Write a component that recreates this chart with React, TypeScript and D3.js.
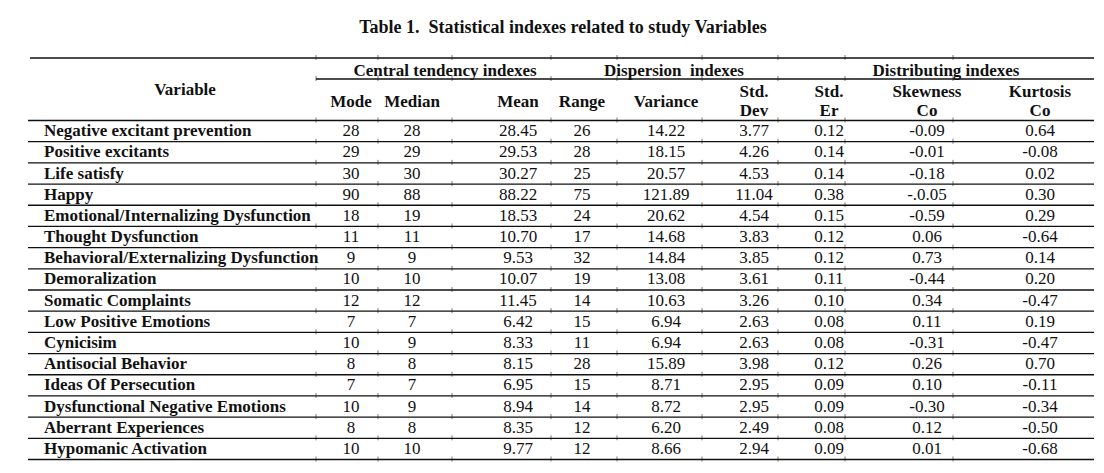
import React from "react";
import * as d3 from "d3";

const title = "Table 1.  Statistical indexes related to study Variables";

const variables = [
  "Negative excitant prevention",
  "Positive excitants",
  "Life satisfy",
  "Happy",
  "Emotional/Internalizing Dysfunction",
  "Thought Dysfunction",
  "Behavioral/Externalizing Dysfunction",
  "Demoralization",
  "Somatic Complaints",
  "Low Positive Emotions",
  "Cynicisim",
  "Antisocial Behavior",
  "Ideas Of Persecution",
  "Dysfunctional Negative Emotions",
  "Aberrant Experiences",
  "Hypomanic Activation",
];

const modeValues = ["28", "29", "30", "90", "18", "11", "9", "10", "12", "7", "10", "8", "7", "10", "8", "10"];
const medianValues = ["28", "29", "30", "88", "19", "11", "9", "10", "12", "7", "9", "8", "7", "9", "8", "10"];
const meanValues = ["28.45", "29.53", "30.27", "88.22", "18.53", "10.70", "9.53", "10.07", "11.45", "6.42", "8.33", "8.15", "6.95", "8.94", "8.35", "9.77"];
const rangeValues = ["26", "28", "25", "75", "24", "17", "32", "19", "14", "15", "11", "28", "15", "14", "12", "12"];
const varianceValues = ["14.22", "18.15", "20.57", "121.89", "20.62", "14.68", "14.84", "13.08", "10.63", "6.94", "6.94", "15.89", "8.71", "8.72", "6.20", "8.66"];
const stdDevValues = ["3.77", "4.26", "4.53", "11.04", "4.54", "3.83", "3.85", "3.61", "3.26", "2.63", "2.63", "3.98", "2.95", "2.95", "2.49", "2.94"];
const stdErValues = ["0.12", "0.14", "0.14", "0.38", "0.15", "0.12", "0.12", "0.11", "0.10", "0.08", "0.08", "0.12", "0.09", "0.09", "0.08", "0.09"];
const skewnessValues = ["-0.09", "-0.01", "-0.18", "-.0.05", "-0.59", "0.06", "0.73", "-0.44", "0.34", "0.11", "-0.31", "0.26", "0.10", "-0.30", "0.12", "0.01"];
const kurtosisValues = ["0.64", "-0.08", "0.02", "0.30", "0.29", "-0.64", "0.14", "0.20", "-0.47", "0.19", "-0.47", "0.70", "-0.11", "-0.34", "-0.50", "-0.68"];

const groupHeaders = ["Central tendency indexes", "Dispersion  indexes", "Distributing indexes"];
const columnHeaders: string[][] = [
  ["Mode"], ["Median"], ["Mean"], ["Range"], ["Variance"], ["Std.", "Dev"], ["Std.", "Er"], ["Skewness", "Co"], ["Kurtosis", "Co"],
];

const columnData = [modeValues, medianValues, meanValues, rangeValues, varianceValues, stdDevValues, stdErValues, skewnessValues, kurtosisValues];

// layout
const W = 1104;
const H = 473;
const FONT = "'Liberation Serif', 'Times New Roman', serif";
const FS = 17;
const tableLeft = 28;
const tableRight = 1094;
const colCenters = [351, 412, 518, 582, 666, 754, 829, 927, 1040];
const groupCenters = [445, 674, 946];
const groupLineStart = 316;
const boundaries = [316, 378, 452, 551, 617, 702, 778, 845, 953];

export default function App() {
  const y = d3
    .scaleBand<string>()
    .domain(variables)
    .range([120.5, 459.5])
    .padding(0);
  const bw = y.bandwidth();
  const ink = "#111";

  const hLine = (yy: number, x1: number, x2: number, key: string, sw = 1.4) => (
    <g key={key}>
      <line x1={x1} x2={x2} y1={yy} y2={yy} stroke={ink} strokeWidth={sw} />
      {boundaries
        .filter((b) => b >= x1 && b <= x2)
        .map((b, i) => (
          <line key={i} x1={b} x2={b} y1={yy - 3} y2={yy + 2} stroke={ink} strokeWidth={0.8} opacity={0.7} />
        ))}
    </g>
  );

  return (
    <svg
      width={W}
      height={H}
      style={{ position: "absolute", left: 0, top: 0, background: "#fff", display: "block" }}
      fontFamily={FONT}
      fontSize={FS}
      fill={ink}
    >
      <rect x={0} y={0} width={W} height={H} fill="#fff" />
      <text x={563} y={33} textAnchor="middle" fontWeight="bold" fontSize={18} style={{ whiteSpace: "pre" }}>
        {title}
      </text>

      {/* header lines */}
      {hLine(58, tableLeft + 2, tableRight, "top")}
      {hLine(79, groupLineStart, tableRight, "grp")}

      <text x={185} y={95} textAnchor="middle" fontWeight="bold">Variable</text>
      {groupHeaders.map((g, i) => (
        <text key={g} x={groupCenters[i]} y={76} textAnchor="middle" fontWeight="bold" style={{ whiteSpace: "pre" }}>
          {g}
        </text>
      ))}
      {columnHeaders.map((h, i) =>
        h.length === 1 ? (
          <text key={i} x={colCenters[i]} y={107} textAnchor="middle" fontWeight="bold">{h[0]}</text>
        ) : (
          <g key={i}>
            <text x={colCenters[i]} y={97} textAnchor="middle" fontWeight="bold">{h[0]}</text>
            <text x={colCenters[i]} y={116} textAnchor="middle" fontWeight="bold">{h[1]}</text>
          </g>
        )
      )}

      {hLine(120.5, tableLeft, tableRight, "hdr")}

      {variables.map((v, r) => {
        const top = y(v)!;
        const base = top + bw * 0.74;
        return (
          <g key={v}>
            <text x={44} y={base} fontWeight="bold">{v}</text>
            {columnData.map((col, c) => (
              <text key={c} x={colCenters[c]} y={base} textAnchor="middle">{col[r]}</text>
            ))}
            {hLine(top + bw, tableLeft, tableRight, "r" + r, r === variables.length - 1 ? 1.5 : 1.3)}
          </g>
        );
      })}
    </svg>
  );
}
